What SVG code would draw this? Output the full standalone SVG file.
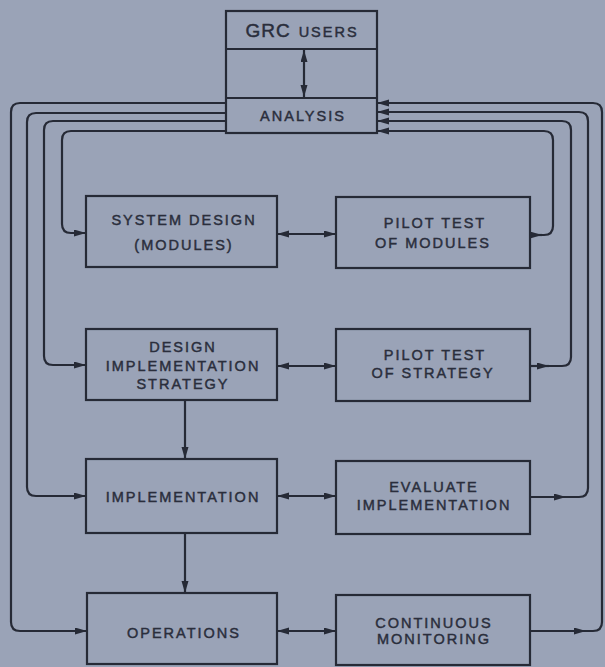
<svg xmlns="http://www.w3.org/2000/svg" width="605" height="667" viewBox="0 0 605 667">
<defs>
<marker id="arr" markerUnits="userSpaceOnUse" markerWidth="13" markerHeight="8" refX="12" refY="3.5" orient="auto-start-reverse">
<path d="M0,0 L12,3.5 L0,7 Z" fill="#262a36"/>
</marker>
<style>
.box{fill:none;stroke:#262a36;stroke-width:2.2}
.ln{fill:none;stroke:#262a36;stroke-width:2.2}
.t{font-family:"Liberation Sans",Arial,sans-serif;font-size:14.5px;letter-spacing:2px;fill:#2a2e3c;stroke:#2a2e3c;stroke-width:0.45;text-anchor:middle}
</style>
</defs>
<rect x="0" y="0" width="605" height="667" fill="#9aa3b7"/>

<g id="grc-users">
<rect class="box" x="226" y="11" width="151" height="122"/>
<line class="ln" x1="226" y1="49" x2="377" y2="49"/>
<text class="t" x="302" y="37"><tspan font-size="19" letter-spacing="1">GRC</tspan><tspan dx="8" font-size="14.5">USERS</tspan></text>
</g>
<g id="analysis">
<line class="ln" x1="226" y1="98" x2="377" y2="98"/>
<text class="t" x="303" y="121">ANALYSIS</text>
</g>
<g id="system-design">
<rect class="box" x="86" y="196" width="191" height="71"/>
<text class="t" x="184" y="225">SYSTEM DESIGN</text>
<text class="t" x="184" y="250">(MODULES)</text>
</g>
<g id="pilot-modules">
<rect class="box" x="336" y="197" width="194" height="71"/>
<text class="t" x="435" y="228">PILOT TEST</text>
<text class="t" x="433" y="248">OF MODULES</text>
</g>
<g id="design-strategy">
<rect class="box" x="86" y="329" width="191" height="71"/>
<text class="t" x="183" y="352">DESIGN</text>
<text class="t" x="183" y="371">IMPLEMENTATION</text>
<text class="t" x="183" y="389">STRATEGY</text>
</g>
<g id="pilot-strategy">
<rect class="box" x="336" y="329" width="194" height="72"/>
<text class="t" x="435" y="360">PILOT TEST</text>
<text class="t" x="433" y="378">OF STRATEGY</text>
</g>
<g id="implementation">
<rect class="box" x="86" y="459" width="191" height="74"/>
<text class="t" x="183" y="502">IMPLEMENTATION</text>
</g>
<g id="evaluate">
<rect class="box" x="336" y="461" width="194" height="73"/>
<text class="t" x="434" y="492">EVALUATE</text>
<text class="t" x="434" y="510">IMPLEMENTATION</text>
</g>
<g id="operations">
<rect class="box" x="87" y="593" width="190" height="71"/>
<text class="t" x="184" y="638">OPERATIONS</text>
</g>
<g id="monitoring">
<rect class="box" x="336" y="595" width="194" height="70"/>
<text class="t" x="434" y="628">CONTINUOUS</text>
<text class="t" x="434" y="644">MONITORING</text>
</g>

<g id="connectors">
<line class="ln" x1="304" y1="50" x2="304" y2="97" marker-start="url(#arr)" marker-end="url(#arr)"/>
<line class="ln" x1="277" y1="234" x2="336" y2="234" marker-start="url(#arr)" marker-end="url(#arr)"/>
<line class="ln" x1="277" y1="366" x2="336" y2="366" marker-start="url(#arr)" marker-end="url(#arr)"/>
<line class="ln" x1="277" y1="496" x2="336" y2="496" marker-start="url(#arr)" marker-end="url(#arr)"/>
<line class="ln" x1="277" y1="631" x2="336" y2="631" marker-start="url(#arr)" marker-end="url(#arr)"/>
<line class="ln" x1="185" y1="400" x2="185" y2="459" marker-end="url(#arr)"/>
<line class="ln" x1="185" y1="533" x2="185" y2="593" marker-end="url(#arr)"/>

<path class="ln" d="M226,103 H20 Q11,103 11,112 V622 Q11,631 20,631 H87" marker-end="url(#arr)"/>
<path class="ln" d="M226,113 H36 Q27,113 27,122 V487 Q27,496 36,496 H86" marker-end="url(#arr)"/>
<path class="ln" d="M226,121 H53 Q44,121 44,130 V356 Q44,365 53,365 H86" marker-end="url(#arr)"/>
<path class="ln" d="M226,131 H71 Q62,131 62,140 V224 Q62,233 71,233 H86" marker-end="url(#arr)"/>

<path class="ln" d="M530,235 H542" marker-end="url(#arr)"/>
<path class="ln" d="M542,235 H544 Q553,235 553,226 V140 Q553,131 544,131 H377" marker-end="url(#arr)"/>
<path class="ln" d="M530,366 H549" marker-end="url(#arr)"/>
<path class="ln" d="M549,366 H562 Q571,366 571,357 V130 Q571,121 562,121 H377" marker-end="url(#arr)"/>
<path class="ln" d="M530,497 H566" marker-end="url(#arr)"/>
<path class="ln" d="M566,497 H579 Q588,497 588,488 V121 Q588,112 579,112 H377" marker-end="url(#arr)"/>
<path class="ln" d="M530,631 H586" marker-end="url(#arr)"/>
<path class="ln" d="M586,631 H593 Q602,631 602,622 V112 Q602,103 593,103 H377" marker-end="url(#arr)"/>
</g>
</svg>
